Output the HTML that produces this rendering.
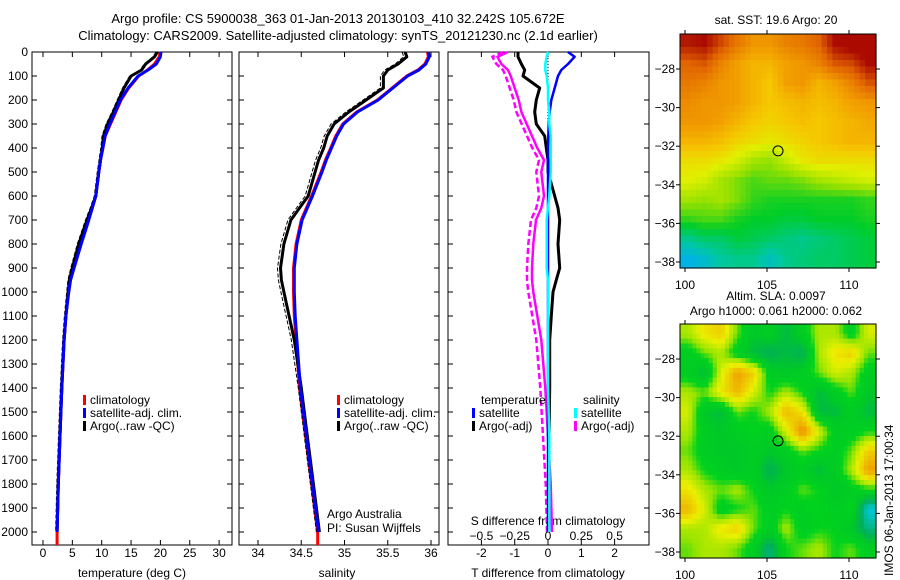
<!DOCTYPE html>
<html><head><meta charset="utf-8"><style>
body{margin:0;background:#fff;}
svg{display:block;font-family:"Liberation Sans",sans-serif;}
text{font-size:12px;fill:#000;}
</style></head><body>
<svg id="fig" width="900" height="580" viewBox="0 0 900 580">
<text x="338" y="23" text-anchor="middle" style="font-size:13px">Argo profile: CS 5900038_363 01-Jan-2013 20130103_410 32.242S 105.672E</text>
<text x="338" y="40" text-anchor="middle" style="font-size:13px">Climatology: CARS2009. Satellite-adjusted climatology: synTS_20121230.nc (2.1d earlier)</text>
<text x="776" y="24" text-anchor="middle">sat. SST: 19.6 Argo: 20</text>
<text x="776" y="300" text-anchor="middle">Altim. SLA: 0.0097</text>
<text x="776" y="315" text-anchor="middle">Argo h1000: 0.061 h2000: 0.062</text>
<text transform="translate(893,576) rotate(-90)">IMOS 06-Jan-2013 17:00:34</text>
<g id="plots"></g>
</svg>
<script>
// ---- profile data ----
const depths=[0,20,50,75,100,150,200,250,300,350,400,450,500,600,650,700,800,900,950,1000,1100,1200,1400,1600,1800,2000];
const climT=[20.0,19.8,19.0,17.8,16.3,14.6,13.3,12.4,11.5,10.6,10.2,9.8,9.5,9.0,8.4,7.7,6.4,5.2,4.6,4.3,3.9,3.6,3.2,2.9,2.6,2.4];
const satT=[20.1,20.0,19.3,17.9,16.2,14.5,13.2,12.3,11.4,10.6,10.2,9.8,9.5,9.0,8.4,7.8,6.5,5.3,4.7,4.4,3.9,3.6,3.2,2.9,2.6,2.4];
const argoT=[19.5,19.0,17.5,16.8,15.0,13.8,12.9,12.0,11.0,10.3,10.1,9.8,9.5,9.0,8.3,7.5,6.1,5.0,4.5,4.3,3.9,3.6,3.2,2.9,2.6,2.4];
const climS=[35.96,35.97,35.93,35.85,35.72,35.55,35.38,35.14,34.98,34.9,34.84,34.78,34.73,34.62,34.56,34.5,34.44,34.41,34.41,34.41,34.42,34.44,34.48,34.55,34.62,34.69];
const satS=[35.97,35.98,35.94,35.86,35.73,35.56,35.39,35.15,34.99,34.91,34.85,34.79,34.74,34.63,34.57,34.51,34.45,34.42,34.42,34.42,34.43,34.45,34.49,34.56,34.63,34.70];
const argoS=[35.70,35.72,35.62,35.5,35.45,35.45,35.25,35.05,34.88,34.8,34.76,34.7,34.66,34.58,34.48,34.38,34.3,34.26,34.27,34.3,34.36,34.42,34.5,34.57,34.64,34.71];
const dTsat=[0.6,0.8,0.6,0.4,0.3,0.2,0.1,0.05,0.02,0.01,0,0,0,0,0,0,0,0,0,0,0,0,0,0,0,0];
const dTargo=[-0.9,-0.9,-0.8,-0.7,-0.75,-0.25,-0.35,-0.4,-0.35,-0.1,-0.05,0,0,0.2,0.3,0.35,0.3,0.35,0.25,0.15,0.1,0.05,0.05,0.03,0.03,0.02];
const dSsat=[0.0,-0.01,-0.02,-0.02,-0.01,0.0,0.0,0.01,0.01,0.02,0.02,0.02,0.02,0.01,0.0,-0.01,-0.01,-0.01,0,0,0,0,0,0.01,0.01,0.01];
const dSargo=[-0.3,-0.38,-0.35,-0.3,-0.28,-0.25,-0.22,-0.2,-0.16,-0.12,-0.08,-0.03,-0.05,-0.03,-0.05,-0.09,-0.11,-0.12,-0.12,-0.11,-0.08,-0.05,-0.02,0.0,0.02,0.03];
const depthTicks=[0,100,200,300,400,500,600,700,800,900,1000,1100,1200,1300,1400,1500,1600,1700,1800,1900,2000];
const tTicks=[0,5,10,15,20,25,30];
const sTicks=[34,34.5,35,35.5,36];
const dTTicks=[-2,-1,0,1,2];
const dSTicks=[-0.5,-0.25,0,0.25,0.5];
// ---- map data ----
const mapLons=[100,105,110];
const mapLats=[-28,-30,-32,-34,-36,-38];
const sstGrid=[
[22.3,22.4,22.0,21.6,21.3,21.3,21.5,21.6,21.8,22.4,22.6,22.6],
[21.8,21.9,21.5,21.2,21.0,21.0,21.2,21.3,21.5,21.9,22.0,22.4],
[21.6,21.5,21.3,21.2,21.0,20.8,21.2,21.3,21.0,21.2,21.5,21.9],
[21.4,21.3,21.3,21.2,21.0,20.8,20.9,21.0,20.9,21.0,21.2,21.3],
[21.3,21.3,21.2,21.0,20.8,20.7,20.8,20.9,20.8,20.9,21.0,21.1],
[21.0,21.0,20.9,20.7,20.6,20.5,20.6,20.7,20.8,20.9,21.0,21.0],
[20.6,20.6,20.5,20.3,20.0,19.9,20.2,20.5,20.6,20.6,20.6,20.6],
[20.4,20.3,20.0,19.8,19.6,19.7,19.7,19.8,20.0,20.1,20.2,20.3],
[20.0,19.9,20.0,19.8,19.5,19.4,19.4,19.4,19.4,19.4,19.4,19.5],
[19.5,19.6,19.6,19.4,19.3,19.3,19.2,19.2,19.3,19.3,19.3,19.4],
[18.8,19.0,19.0,19.2,19.1,19.0,18.9,18.8,18.9,19.0,19.1,19.2],
[18.2,18.4,18.7,18.8,18.8,18.5,18.8,18.9,19.0,19.0,19.1,19.2]];
const slaGrid=[
[3,5,6,2,-1,0,-2,0,3,3,0,4],
[0,2,3,0,-2,-3,-2,-3,3,5,6,2],
[0,-2,4,8,6,0,-1,0,2,4,3,0],
[3,2,5,7,4,1,3,1,-2,0,2,-1],
[4,-1,-2,2,1,3,7,5,-2,-2,0,-2],
[3,0,-1,0,1,0,4,9,4,0,0,1],
[2,0,-1,-1,0,-1,0,2,1,0,2,6],
[3,1,0,-1,0,-3,-1,0,-2,0,3,8],
[5,3,2,3,1,-1,0,2,1,-1,0,1],
[7,4,0,1,2,0,1,0,1,0,1,-6],
[3,3,5,6,2,0,3,0,1,1,-1,-4],
[2,3,3,2,0,-4,1,2,3,1,2,0]];
const argoLon=105.672, argoLat=-32.242;

const NS='http://www.w3.org/2000/svg';
const root=document.getElementById('plots');
function el(tag,attrs,parent){const e=document.createElementNS(NS,tag);for(const k in attrs)e.setAttribute(k,attrs[k]);(parent||root).appendChild(e);return e;}
function txt(x,y,s,anchor,name,parent){const t=el('text',{x:x,y:y,'text-anchor':anchor||'start'},parent);t.textContent=s;


return t;}

const Y0=52, PXD=0.24, YB=545;
const yD=d=>Y0+d*PXD;
function panel(x0,x1,name){
  const g=el('g',{});
  
  
  const r=el('rect',{x:x0,y:Y0,width:x1-x0,height:YB-Y0,fill:'none',stroke:'#000','stroke-width':1},g);
  
  
  depthTicks.forEach(d=>{el('line',{x1:x0,x2:x0+5,y1:yD(d),y2:yD(d),stroke:'#000'},g);el('line',{x1:x1-5,x2:x1,y1:yD(d),y2:yD(d),stroke:'#000'},g);});
  return g;
}
function line(g,xs,fx,color,w,name,dash){
  const pts=depths.map((d,i)=>fx(xs[i]).toFixed(1)+','+yD(d).toFixed(1)).join(' ');
  const p=el('polyline',{points:pts,fill:'none',stroke:color,'stroke-width':w,'stroke-linejoin':'round'},g);
  if(dash)p.setAttribute('stroke-dasharray',dash);
  
  
  return p;
}
function xticks(g,ticks,fx,x0,x1,ylab){
  ticks.forEach(v=>{const x=fx(v);el('line',{x1:x,x2:x,y1:YB,y2:YB-5,stroke:'#000'},g);el('line',{x1:x,x2:x,y1:Y0,y2:Y0+5,stroke:'#000'},g);
    if(ylab)txt(x,ylab,String(v),'middle','x-tick-label',g);});
}
function legend(g,x,y,items){
  items.forEach((it,i)=>{
    const r=el('rect',{x:x,y:y+i*13-9,width:3,height:10,fill:it[0]},g);
    
    
    txt(x+7,y+i*13,it[1],'start','legend-entry',g);});
}

// Panel 1: temperature
const fT=v=>43+v*5.87;
const g1=panel(32,232,'temperature-panel');
depthTicks.forEach(d=>txt(28,yD(d)+4,String(d),'end','y-tick-label',g1));
xticks(g1,tTicks,fT,32,232,557);
txt(132,577,'temperature (deg C)','middle','x-axis-title',g1);
line(g1,climT,fT,'#f00',3,'temperature-climatology');
el('line',{x1:fT(climT[25]),x2:fT(climT[25]),y1:yD(2000),y2:YB,stroke:'#f00','stroke-width':3},g1);
line(g1,argoT,v=>fT(v)-1.5,'#000',1,'temperature-argo-raw','4,2');
line(g1,argoT,fT,'#000',3,'temperature-argo');
line(g1,satT,fT,'#00f',3,'temperature-satellite-adj');
legend(g1,83,404,[['#f00','climatology'],['#00f','satellite-adj. clim.'],['#000','Argo(..raw -QC)']]);

// Panel 2: salinity
const fS=v=>258+(v-34)*86.5;
const g2=panel(239,439,'salinity-panel');
xticks(g2,sTicks,fS,239,439,557);
txt(337,577,'salinity','middle','x-axis-title',g2);
line(g2,climS,fS,'#f00',3,'salinity-climatology');
el('line',{x1:fS(climS[25]),x2:fS(climS[25]),y1:yD(2000),y2:YB,stroke:'#f00','stroke-width':3},g2);
line(g2,argoS,v=>fS(v)-3,'#000',1,'salinity-argo-raw','4,2');
line(g2,argoS,fS,'#000',3,'salinity-argo');
line(g2,satS,fS,'#00f',3,'salinity-satellite-adj');
legend(g2,337,404,[['#f00','climatology'],['#00f','satellite-adj. clim.'],['#000','Argo(..raw -QC)']]);
txt(327,518,'Argo Australia','start','argo-credit',g2);
txt(327,532,'PI: Susan Wijffels','start','pi-credit',g2);

// Panel 3: differences
const fdT=v=>548+v*33.3;
const fdS=v=>548+v*133.2;
const g3=panel(448,649,'difference-panel');
xticks(g3,dTTicks,fdT,448,649,557);
txt(548,577,'T difference from climatology','middle','x-axis-title',g3);
dSTicks.forEach(v=>txt(fdS(v),540,String(v).replace('-','−'),'middle','s-tick-label',g3));
txt(548,525,'S difference from climatology','middle','s-axis-title',g3);
el('line',{x1:548,x2:548,y1:Y0,y2:YB-25,stroke:'#000','stroke-dasharray':'1,2'},g3);
line(g3,dSargo,v=>fdS(v)-5,'#f0f',2.5,'salinity-diff-argo-raw','6,3');
line(g3,dSargo,fdS,'#f0f',2.5,'salinity-diff-argo');
line(g3,dTargo,fdT,'#000',3,'temperature-diff-argo');
line(g3,dTsat,fdT,'#00f',2.5,'temperature-diff-satellite');
line(g3,dSsat,fdS,'#0ff',2.5,'salinity-diff-satellite');
txt(481,404,'temperature','start','legend-title-temperature',g3);
txt(583,404,'salinity','start','legend-title-salinity',g3);
legend(g3,472,417,[['#00f','satellite'],['#000','Argo(-adj)']]);
legend(g3,574,417,[['#0ff','satellite'],['#f0f','Argo(-adj)']]);

// Maps
function lerpStops(stops,v){
  if(v<=stops[0][0])return stops[0][1];
  for(let i=1;i<stops.length;i++){if(v<=stops[i][0]){const a=stops[i-1],b=stops[i],t=(v-a[0])/(b[0]-a[0]);
    return a[1].map((c,k)=>Math.round(c+(b[1][k]-c)*t));}}
  return stops[stops.length-1][1];
}
const sstStops=[[18.0,[0,170,255]],[18.7,[0,200,160]],[19.3,[0,205,40]],[19.9,[150,225,0]],[20.4,[225,240,0]],[20.8,[245,200,0]],[21.2,[242,160,0]],[21.8,[225,100,0]],[22.4,[170,10,0]]];
const slaStops=[[-10,[0,100,255]],[-6,[0,200,220]],[-3,[0,175,90]],[-1,[0,200,40]],[1,[0,210,30]],[2.5,[150,228,0]],[4.5,[235,240,0]],[8,[240,160,0]],[11,[220,100,0]]];
function sample(grid,fr,fc){
  const nr=grid.length,nc=grid[0].length;
  fr=Math.max(0,Math.min(nr-1,fr));fc=Math.max(0,Math.min(nc-1,fc));
  const r0=Math.floor(fr),c0=Math.floor(fc),r1=Math.min(nr-1,r0+1),c1=Math.min(nc-1,c0+1),tr=fr-r0,tc=fc-c0;
  return (grid[r0][c0]*(1-tc)+grid[r0][c1]*tc)*(1-tr)+(grid[r1][c0]*(1-tc)+grid[r1][c1]*tc)*tr;
}
function map(top,grid,stops,name,sub){
  const L=680,R=876,B=top+234;
  const fx=lon=>685+(lon-100)*16.4;
  const fy=lat=>top+35+(-28-lat)*19.3;
  const g=el('g',{});
  
  
  const nr=grid.length, nc=grid[0].length;
  const NR=nr*sub, NC=nc*sub;
  const cw=(R-L)/NC, ch=(B-top)/NR;
  for(let r=0;r<NR;r++)for(let c=0;c<NC;c++){
    const v=sample(grid,(r+0.5)/sub-0.5,(c+0.5)/sub-0.5);
    const col=lerpStops(stops,v);
    const cell=el('rect',{x:(L+c*cw).toFixed(1),y:(top+r*ch).toFixed(1),width:(cw+0.6).toFixed(1),height:(ch+0.6).toFixed(1),fill:'rgb('+col.join(',')+')'},g);
    
    
  }
  const fr=el('rect',{x:L,y:top,width:R-L,height:B-top,fill:'none',stroke:'#000'},g);
  
  
  mapLons.forEach(lon=>{const x=fx(lon);el('line',{x1:x,x2:x,y1:B,y2:B+4,stroke:'#000'},g);el('line',{x1:x,x2:x,y1:top,y2:top-4,stroke:'#000'},g);txt(x,B+21,String(lon),'middle','map-lon-label',g);});
  mapLats.forEach(lat=>{const y=fy(lat);el('line',{x1:L,x2:L-4,y1:y,y2:y,stroke:'#000'},g);el('line',{x1:R,x2:R+4,y1:y,y2:y,stroke:'#000'},g);txt(L-5,y+4,String(lat).replace('-','−'),'end','map-lat-label',g);});
  const c=el('circle',{cx:fx(argoLon),cy:fy(argoLat),r:5,fill:'none',stroke:'#000','stroke-width':1},g);
  
  
}
map(34,sstGrid,sstStops,'sst-map',3);
map(324,slaGrid,slaStops,'sla-map',4);
</script>
</body></html>
